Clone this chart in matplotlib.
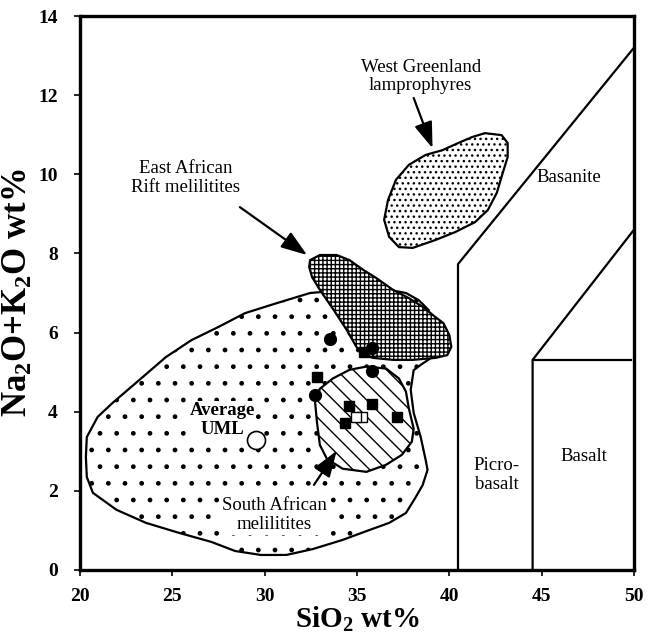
import numpy as np
import matplotlib.pyplot as plt

plt.rcParams['font.family'] = ['Liberation Serif', 'DejaVu Serif']
plt.rcParams['mathtext.fontset'] = 'custom'
plt.rcParams['mathtext.rm'] = 'Liberation Serif:bold'
plt.rcParams['mathtext.it'] = 'Liberation Serif:bold'
plt.rcParams['mathtext.bf'] = 'Liberation Serif:bold'
plt.rcParams['hatch.linewidth'] = 1.0

# classification field boundaries (SiO2, Na2O+K2O)
foidite_line_x = [40.47, 40.47, 50.0]
foidite_line_y = [0.0, 7.73, 13.2]
basalt_line_x = [44.51, 44.51, 50.0]
basalt_line_y = [0.0, 5.31, 8.6]
basalt_top_x = [44.51, 49.85]
basalt_top_y = [5.31, 5.31]

# UML field (sparse dots)
uml_x = [20.37, 20.96, 21.76, 23.21, 24.65, 26.04, 27.49, 28.93, 30.70, 32.46,
         34.44, 36.74, 37.65, 38.34, 38.88, 38.98, 39.5, 39.3, 38.5, 38.07,
         37.91, 38.07, 38.45, 38.72, 38.82, 38.56, 38.18, 37.65, 36.74, 35.67,
         34.22, 32.62, 31.18, 29.79, 28.40, 27.11, 25.35, 23.58, 21.98, 20.70,
         20.37, 20.32]
uml_y = [3.36, 3.87, 4.22, 4.80, 5.38, 5.81, 6.14, 6.49, 6.75, 7.00,
         7.08, 7.08, 7.00, 6.82, 6.57, 6.37, 6.0, 5.45, 5.2, 5.05,
         4.55, 3.97, 3.36, 2.78, 2.53, 2.15, 1.84, 1.44, 1.19, 1.01,
         0.76, 0.53, 0.38, 0.38, 0.48, 0.71, 0.94, 1.19, 1.52, 1.95,
         2.35, 2.86]

# East African Rift melilitites
eafr_x = [32.46, 32.99, 33.90, 34.60, 35.35, 36.04, 36.95, 37.81, 38.56, 39.25,
          39.68, 40.00, 40.11, 39.89, 39.25, 38.02, 36.95, 35.88, 35.35, 34.97,
          34.44, 33.74, 32.99, 32.57, 32.41]
eafr_y = [7.83, 7.96, 7.96, 7.83, 7.58, 7.38, 7.08, 6.87, 6.65, 6.39,
          6.24, 5.94, 5.64, 5.43, 5.36, 5.31, 5.31, 5.36, 5.43, 5.64,
          6.07, 6.57, 7.08, 7.40, 7.66]

# South African melilitites
safr_x = [35.51, 36.58, 37.27, 37.65, 37.81, 38.07, 37.97, 37.43, 36.58, 35.51,
          34.22, 33.37, 32.99, 32.83, 32.73, 32.99, 33.69, 34.60]
safr_y = [5.14, 5.09, 4.84, 4.51, 4.08, 3.57, 3.24, 2.91, 2.66, 2.48,
          2.56, 2.81, 3.16, 3.75, 4.25, 4.58, 4.84, 5.06]

# West Greenland lamprophyres
wgl_x = [41.93, 42.83, 43.16, 43.16, 42.89, 42.57, 42.09, 41.39, 40.32, 39.25,
         38.02, 37.27, 36.74, 36.47, 36.68, 37.11, 37.81, 38.72, 39.63, 40.48,
         41.23]
wgl_y = [11.04, 10.99, 10.79, 10.44, 10.03, 9.53, 9.10, 8.79, 8.54, 8.34,
         8.14, 8.16, 8.42, 8.85, 9.35, 9.86, 10.24, 10.49, 10.61, 10.79,
         10.94]

# samples
circle_x = [33.53, 35.83, 35.83, 32.73]
circle_y = [5.84, 5.61, 5.03, 4.42]
square_x = [35.40, 32.83, 34.55, 35.83, 37.17, 34.33]
square_y = [5.51, 4.88, 4.14, 4.20, 3.87, 3.71]
open_square_x = [35.29, 34.97]
open_square_y = [3.87, 3.87]
avg_uml_x = [29.52]
avg_uml_y = [3.29]

fig = plt.figure(figsize=(6.47, 6.38), dpi=100)
ax = fig.add_axes([0.1236, 0.1066, 0.8563, 0.8683])

ax.fill(uml_x, uml_y, facecolor='white', edgecolor='black', lw=1.6,
        hatch='.', zorder=1)
ax.fill(eafr_x, eafr_y, facecolor='white', edgecolor='black', lw=1.6,
        hatch='++++', zorder=2)
ax.fill(safr_x, safr_y, facecolor='white', edgecolor='black', lw=1.6,
        hatch='\\\\', zorder=2)
ax.fill(wgl_x, wgl_y, facecolor='white', edgecolor='black', lw=1.6,
        hatch='...', zorder=2)

for xs, ys in [(foidite_line_x, foidite_line_y), (basalt_line_x, basalt_line_y),
               (basalt_top_x, basalt_top_y)]:
    ax.plot(xs, ys, color='black', lw=1.6, zorder=2)

ax.plot(circle_x, circle_y, 'o', color='black', ms=8.5, zorder=4)
ax.plot(square_x, square_y, 's', color='black', ms=7.5, zorder=4)
ax.plot(open_square_x, open_square_y, 's', mfc='white', mec='black', mew=1.0,
        ms=7, zorder=4)
ax.plot(avg_uml_x, avg_uml_y, 'o', mfc='white', mec='black', mew=1.2,
        ms=13, zorder=4)

arrow = dict(arrowstyle='-|>,head_length=0.8,head_width=0.28', color='black',
             lw=1.6, mutation_scale=20, shrinkA=0, shrinkB=0)
ax.annotate('', xy=(39.09, 10.66), xytext=(38.07, 11.93), arrowprops=arrow, zorder=5)
ax.annotate('', xy=(32.30, 7.96), xytext=(28.66, 9.17), arrowprops=arrow, zorder=5)
ax.annotate('', xy=(33.90, 3.01), xytext=(32.67, 2.15), arrowprops=arrow, zorder=5)

fs = 13.5
ax.text(38.45, 12.48, 'West Greenland\nlamprophyres', ha='center', va='center',
        fontsize=fs, linespacing=1.1)
ax.text(25.72, 9.91, 'East African\nRift melilitites', ha='center', va='center',
        fontsize=fs, linespacing=1.1)
ax.text(30.53, 1.39, 'South African\nmelilitites', ha='center', va='center',
        fontsize=fs, linespacing=1.1, zorder=3,
        bbox=dict(boxstyle='square,pad=0.15', fc='white', ec='none'))
ax.text(27.7, 3.79, 'Average\nUML', ha='center', va='center', fontsize=fs,
        fontweight='bold', linespacing=1.1, zorder=3,
        bbox=dict(boxstyle='square,pad=0.05', fc='white', ec='none'))
ax.text(46.47, 9.91, 'Basanite', ha='center', va='center', fontsize=fs)
ax.text(47.27, 2.86, 'Basalt', ha='center', va='center', fontsize=fs)
ax.text(42.57, 2.40, 'Picro-\nbasalt', ha='center', va='center', fontsize=fs,
        linespacing=1.1)

ax.set_xlim(20, 50)
ax.set_ylim(0, 14)
ax.set_xticks(np.arange(20, 51, 5))
ax.set_yticks(np.arange(0, 15, 2))
ax.tick_params(direction='out', length=4, width=1.2, labelsize=14)
ax.tick_params(axis='x', pad=9)
ax.tick_params(axis='y', pad=12)
for lab in ax.get_xticklabels() + ax.get_yticklabels():
    lab.set_fontweight('bold')
for sp in ax.spines.values():
    sp.set_linewidth(2.4)

ax.set_xlabel('SiO$_2$ wt%', fontsize=21, fontweight='bold', labelpad=0)
ax.set_ylabel('Na$_2$O+K$_2$O wt%', fontsize=25, fontweight='bold', labelpad=2)

fig.savefig('out.png', dpi=100)
